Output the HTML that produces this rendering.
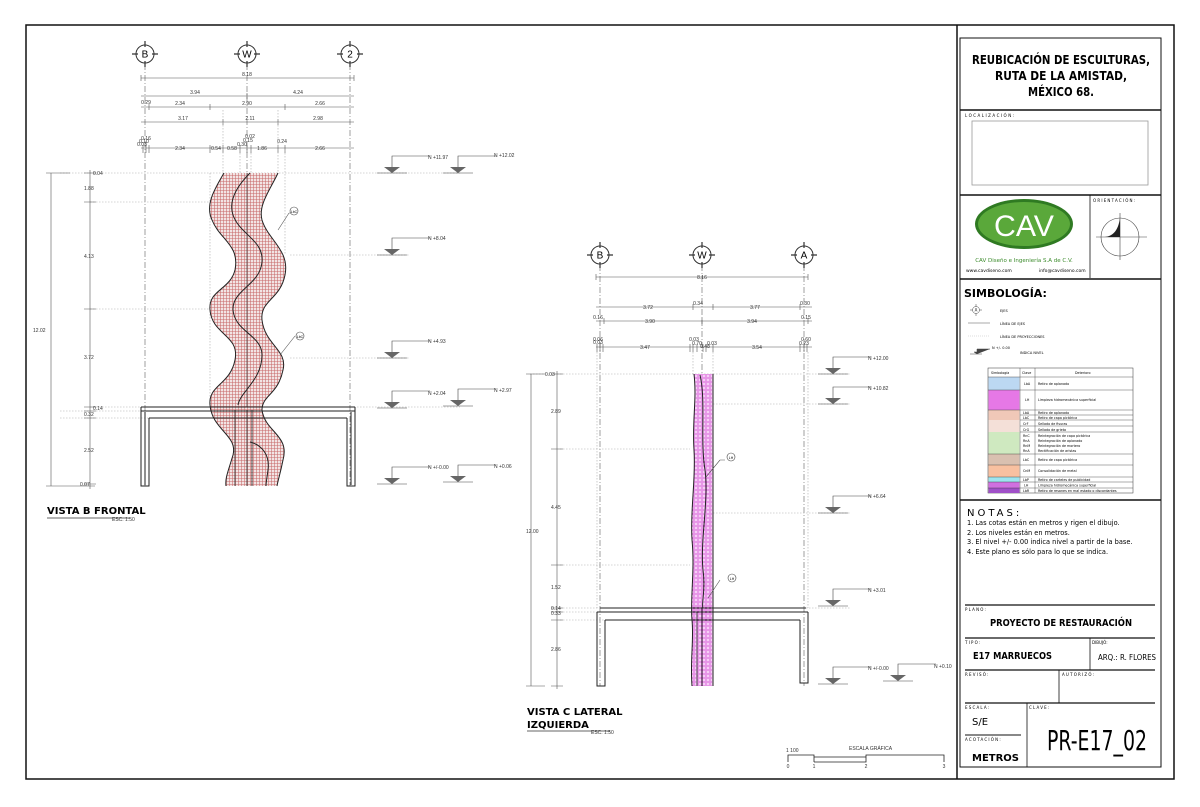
<!DOCTYPE html>
<html><head><meta charset="utf-8"><style>
html,body{margin:0;padding:0;background:#fff;}
svg{display:block;font-family:"Liberation Sans",sans-serif;}
.t{font-size:5px;fill:#333;}
.d{stroke:#555;stroke-width:0.6;fill:none;}
.p{stroke:#aaa;stroke-width:0.6;stroke-dasharray:1.5 1.5;fill:none;}
.ax{stroke:#777;stroke-width:0.7;stroke-dasharray:6 2 1 2;fill:none;}
.k{stroke:#222;stroke-width:1;fill:none;}
.tb{font-family:"DejaVu Sans",sans-serif;}
</style></head><body>
<svg width="1200" height="807" viewBox="0 0 1200 807" xmlns="http://www.w3.org/2000/svg">
<defs>
<pattern id="rh" width="3" height="3" patternUnits="userSpaceOnUse"><rect width="3" height="3" fill="#f2e4e4"/><path d="M0 1.5H3M1.5 0V3" stroke="#c86868" stroke-width="0.55"/></pattern>
<pattern id="mg" width="4" height="4" patternUnits="userSpaceOnUse"><rect width="4" height="4" fill="#f7d2f7"/><circle cx="2" cy="2" r="1.2" fill="none" stroke="#d040d0" stroke-width="0.6"/></pattern>
<g id="lv"><path d="M-15 0H15M0 0V-17H38" stroke="#444" stroke-width="0.6" fill="none"/><path d="M-8 -6H8L0 0Z" fill="#666"/></g>
<g id="ac"><circle r="9" fill="#fff" stroke="#333" stroke-width="1"/><path d="M-13 0H-7M7 0H13M0 -13V-7M0 7V13" stroke="#333" stroke-width="1.2"/></g>
</defs>
<rect width="1200" height="807" fill="#fff"/>
<rect x="26" y="25" width="1148" height="754" fill="none" stroke="#111" stroke-width="1.5"/>
<line x1="957" y1="25" x2="957" y2="779" stroke="#111" stroke-width="1.5"/>
<rect x="960" y="38" width="201" height="729" fill="none" stroke="#111" stroke-width="1"/>

<!-- LEFT VIEW -->
<g>
<line class="ax" x1="145" y1="64" x2="145" y2="486"/>
<line class="ax" x1="247" y1="64" x2="247" y2="486"/>
<line class="ax" x1="350" y1="64" x2="350" y2="486"/>
<use href="#ac" x="145" y="54"/><use href="#ac" x="247" y="54"/><use href="#ac" x="350" y="54"/>
<text x="145" y="57.5" font-size="10" text-anchor="middle">B</text>
<text x="247" y="57.5" font-size="10" text-anchor="middle">W</text>
<text x="350" y="57.5" font-size="10" text-anchor="middle">2</text>
<path class="d" d="M141 78H354M141 75V81M354 75V81M141 96H354M247 93V99M141 107H354M149 104V110M210 104V110M285 104V110M141 122H354M223 119V125M278 119V125M141 148H354M143 145V153M146 145V153M149 145V153M210 145V153M223 145V153M240 145V153M247 145V153M251 145V153M278 145V153M285 145V153"/>
<g class="t" text-anchor="middle">
<text x="247" y="76">8.18</text><text x="195" y="94">3.94</text><text x="298" y="94">4.24</text>
<text x="146" y="104">0.29</text><text x="180" y="105">2.34</text><text x="247" y="105">2.90</text><text x="320" y="105">2.66</text>
<text x="183" y="120">3.17</text><text x="250" y="120">2.11</text><text x="318" y="120">2.98</text>
<text x="146" y="140">0.16</text><text x="144" y="143">0.10</text><text x="142" y="146">0.03</text>
<text x="180" y="150">2.34</text><text x="216" y="150">0.54</text><text x="232" y="150">0.58</text><text x="242" y="146">0.30</text><text x="250" y="138">0.02</text><text x="248" y="142">0.15</text><text x="262" y="150">1.86</text><text x="282" y="143">0.24</text><text x="320" y="150">2.66</text>
</g>
<path class="p" d="M60 173H460M90 202H220M90 309H220M90 407H460M60 411H150M60 418H150M290 255H410M290 358H410M210 173V405M223 110V173M240 150V173M251 150V173M278 110V173M285 150V255"/>
<path class="d" d="M51 173V486M46 173H70M46 486H95M90 170V489M84 173H96M84 202H96M84 309H96M84 407H96M84 411H96M84 418H96M84 484H96"/>
<g class="t">
<text x="93" y="175">0.04</text><text x="84" y="190">1.88</text><text x="84" y="258">4.13</text><text x="33" y="332">12.02</text><text x="84" y="359">3.72</text><text x="93" y="410">0.14</text><text x="84" y="416">0.32</text><text x="84" y="452">2.52</text><text x="80" y="486">0.07</text>
</g>
<path d="M224 173 C214 190,205 205,212 220 C220 240,240 245,235 270 C230 290,208 290,210 310 C212 335,240 335,235 360 C230 385,208 385,210 405 C212 430,238 435,233 455 C228 472,225 478,226 486 L247 486 L247 173 Z" fill="url(#rh)"/>
<path d="M247 173 L278 173 C270 190,258 205,262 220 C268 240,290 250,285 275 C280 300,260 300,262 320 C265 345,288 350,283 370 C278 395,262 395,262 410 C265 432,290 435,283 460 C280 475,278 480,277 486 L247 486 Z" fill="url(#rh)"/>
<path class="k" d="M224 173 C214 190,205 205,212 220 C220 240,240 245,235 270 C230 290,208 290,210 310 C212 335,240 335,235 360 C230 385,208 385,210 405 C212 430,238 435,233 455 C228 472,225 478,226 486"/>
<path class="k" d="M250 173 C238 185,228 200,233 215 C240 235,264 240,262 262 C260 285,232 290,233 310 C235 332,262 335,262 355 C262 380,240 392,238 405"/>
<path class="k" d="M278 173 C270 190,258 205,262 220 C268 240,290 250,285 275 C280 300,260 300,262 320 C265 345,288 350,283 370 C278 395,262 395,262 410 C265 432,290 435,283 460 C280 475,278 480,277 486 M250 442 C262 445,270 455,268 470 C267 478,266 482,266 486"/>
<path d="M235 410 V486 M247 410 V486 M252 410 V486" stroke="#222" stroke-width="0.8"/>
<line x1="247" y1="173" x2="247" y2="407" stroke="#333" stroke-width="0.7"/>
<path class="k" d="M141 407H355M141 411H355M149 418H347M141 407V486H149V418M355 407V486H347V418M145 412V485M351 412V485"/>
<path d="M289 213L278 230M289 213H292" class="d"/><circle cx="294" cy="211" r="4" fill="#fff" stroke="#444" stroke-width="0.6"/><text x="294" y="213" font-size="3.5" text-anchor="middle">LbC</text>
<path d="M295 336L280 355" class="d"/><circle cx="300" cy="336" r="4" fill="#fff" stroke="#444" stroke-width="0.6"/><text x="300" y="338" font-size="3.5" text-anchor="middle">LbC</text>
<use href="#lv" x="392" y="173"/><use href="#lv" x="392" y="255"/><use href="#lv" x="392" y="358"/><use href="#lv" x="392" y="408"/><use href="#lv" x="392" y="484"/>
<use href="#lv" x="458" y="173"/><use href="#lv" x="458" y="406"/><use href="#lv" x="458" y="482"/>
<g class="t"><text x="428" y="159">N +11.97</text><text x="428" y="240">N +8.04</text><text x="428" y="343">N +4.93</text><text x="428" y="395">N +2.04</text><text x="428" y="469">N +/-0.00</text>
<text x="494" y="157">N +12.02</text><text x="494" y="392">N +2.97</text><text x="494" y="468">N +0.06</text></g>
<text x="47" y="514" font-size="10" font-weight="bold" class="tb">VISTA B FRONTAL</text>
<line x1="47" y1="518" x2="130" y2="518" stroke="#333" stroke-width="0.8"/>
<text x="112" y="521" class="t" font-size="4">ESC. 1:50</text>
</g>

<!-- RIGHT VIEW -->
<g>
<line class="ax" x1="600" y1="265" x2="600" y2="686"/>
<line class="ax" x1="702" y1="265" x2="702" y2="686"/>
<line class="ax" x1="804" y1="265" x2="804" y2="686"/>
<use href="#ac" x="600" y="255"/><use href="#ac" x="702" y="255"/><use href="#ac" x="804" y="255"/>
<text x="600" y="258.5" font-size="10" text-anchor="middle">B</text>
<text x="702" y="258.5" font-size="10" text-anchor="middle">W</text>
<text x="804" y="258.5" font-size="10" text-anchor="middle">A</text>
<path class="d" d="M596 277H808M596 274V280M808 274V280M596 307H812M693 304V310M713 304V310M800 304V310M596 321H812M604 318V324M702 318V324M808 318V324M596 347H812M597 344V352M600 344V352M603 344V352M690 344V352M693 344V352M697 344V352M703 344V352M706 344V352M713 344V352M800 344V352M804 344V352M807 344V352"/>
<g class="t" text-anchor="middle">
<text x="702" y="279">8.16</text><text x="648" y="309">3.72</text><text x="698" y="305">0.34</text><text x="755" y="309">3.77</text><text x="805" y="305">0.30</text>
<text x="598" y="319">0.16</text><text x="650" y="323">3.90</text><text x="752" y="323">3.94</text><text x="806" y="319">0.15</text>
<text x="598" y="341">0.06</text><text x="598" y="344">0.03</text><text x="645" y="349">3.47</text><text x="694" y="341">0.03</text><text x="697" y="345">0.70</text><text x="705" y="348">0.48</text><text x="712" y="345">0.03</text><text x="757" y="349">3.54</text><text x="806" y="341">0.60</text><text x="804" y="345">0.23</text>
</g>
<path class="p" d="M530 374H850M560 449H690M560 565H690M560 608H850M560 612H605M560 620H605M713 404H850M713 513H850M693 352V374M713 352V374M597 352V608M808 352V608"/>
<path class="d" d="M531 374V686M526 374H545M526 686H545M557 371V689M551 374H563M551 449H563M551 565H563M551 608H563M551 612H563M551 620H563M551 686H563"/>
<g class="t"><text x="545" y="376">0.03</text><text x="551" y="413">2.89</text><text x="551" y="509">4.45</text><text x="526" y="533">12.00</text><text x="551" y="589">1.52</text><text x="551" y="610">0.14</text><text x="551" y="615">0.33</text><text x="551" y="651">2.86</text></g>
<path d="M694 374H713V686H692 C690 660,694 640,692 620 C690 600,695 570,692 540 C690 510,696 480,694 450 C692 420,697 400,694 374Z" fill="url(#mg)"/>
<path class="k" d="M694 374 C697 400,692 420,694 450 C696 480,690 510,692 540 C695 570,690 600,692 620 C694 640,690 660,692 686 M713 374V686 M700 375 C706 400,700 440,705 470 C709 500,700 540,703 570 C706 590,701 605,703 608"/>
<path d="M697 612V686M702 612V686" stroke="#222" stroke-width="0.8"/>
<path class="k" d="M600 608H806M597 612H808M605 620H800M597 612V686H605V620M808 612V683H800V620M702 608V686"/>
<path d="M720 460L706 477M720 460H725" class="d"/><circle cx="731" cy="457" r="4" fill="#fff" stroke="#444" stroke-width="0.6"/><text x="731" y="459" font-size="3.5" text-anchor="middle">LH</text>
<path d="M720 580L708 598" class="d"/><circle cx="732" cy="578" r="4" fill="#fff" stroke="#444" stroke-width="0.6"/><text x="732" y="580" font-size="3.5" text-anchor="middle">LH</text>
<use href="#lv" x="833" y="374"/><use href="#lv" x="833" y="404"/><use href="#lv" x="833" y="513"/><use href="#lv" x="833" y="606"/><use href="#lv" x="833" y="684"/><use href="#lv" x="898" y="681"/>
<g class="t"><text x="868" y="360">N +12.00</text><text x="868" y="390">N +10.82</text><text x="868" y="498">N +6.64</text><text x="868" y="592">N +3.01</text><text x="868" y="670">N +/-0.00</text><text x="934" y="668">N +0.10</text></g>
<text x="527" y="715" font-size="10" font-weight="bold" class="tb">VISTA C LATERAL</text>
<text x="527" y="728" font-size="10" font-weight="bold" class="tb">IZQUIERDA</text>
<line x1="527" y1="731" x2="610" y2="731" stroke="#333" stroke-width="0.8"/>
<text x="591" y="734" class="t" font-size="4">ESC. 1:50</text>
</g>

<g>
<text x="786" y="752" class="t" font-size="4">1 100</text>
<text x="849" y="750" class="t" font-size="4">ESCALA GRÁFICA</text>
<path d="M788 762V755H814V762M814 757H866V762H814M866 762V755H944V762" stroke="#222" stroke-width="0.8" fill="none"/>
<g class="t" font-size="4" text-anchor="middle"><text x="788" y="768">0</text><text x="814" y="768">1</text><text x="866" y="768">2</text><text x="944" y="768">3</text></g>
</g>

<!-- TITLE BLOCK -->
<g class="tb">
<text x="1061" y="64" font-size="12" font-weight="bold" text-anchor="middle" textLength="178" lengthAdjust="spacingAndGlyphs">REUBICACIÓN DE ESCULTURAS,</text>
<text x="1061" y="80" font-size="12" font-weight="bold" text-anchor="middle" textLength="132" lengthAdjust="spacingAndGlyphs">RUTA DE LA AMISTAD,</text>
<text x="1061" y="96" font-size="12" font-weight="bold" text-anchor="middle" textLength="66" lengthAdjust="spacingAndGlyphs">MÉXICO 68.</text>
<line x1="960" y1="110" x2="1161" y2="110" stroke="#111" stroke-width="1.5"/>
<text x="965" y="117" font-size="4" letter-spacing="1.5">LOCALIZACIÓN:</text>
<rect x="972" y="121" width="176" height="64" fill="none" stroke="#999" stroke-width="0.8"/>
<line x1="960" y1="195" x2="1161" y2="195" stroke="#111" stroke-width="1.5"/>
<line x1="1090" y1="195" x2="1090" y2="278" stroke="#111" stroke-width="0.8"/>
<text x="1093" y="202" font-size="4" letter-spacing="1.2">ORIENTACIÓN:</text>
<ellipse cx="1024" cy="224" rx="49" ry="25" fill="#2f7a22"/>
<ellipse cx="1024" cy="224" rx="46" ry="22" fill="#5aa83a"/>
<text x="1024" y="236" font-size="30" fill="#fff" text-anchor="middle" font-family="Liberation Sans,sans-serif" textLength="60" lengthAdjust="spacingAndGlyphs">CAV</text>
<text x="1024" y="262" font-size="5.5" fill="#3a8a2a" text-anchor="middle">CAV Diseño e Ingeniería S.A de C.V.</text>
<text x="966" y="272" font-size="4.5">www.cavdiseno.com</text>
<text x="1039" y="272" font-size="4.5">info@cavdiseno.com</text>
<circle cx="1120" cy="237" r="19" fill="none" stroke="#444" stroke-width="0.6"/>
<path d="M1096 237H1147M1120 213V260" stroke="#444" stroke-width="0.6"/>
<path d="M1105 237 C1112 236,1118 232,1120 218 L1120 237Z" fill="#222"/>
<line x1="960" y1="279" x2="1161" y2="279" stroke="#111" stroke-width="1.5"/>
<text x="964" y="297" font-size="11" font-weight="bold">SIMBOLOGÍA:</text>
<g transform="translate(976,310)"><circle r="3.5" fill="none" stroke="#444" stroke-width="0.5"/><path d="M-6 0H-3.5M3.5 0H6M0 -6V-3.5M0 3.5V6" stroke="#444" stroke-width="0.5"/><text y="1.5" font-size="4" text-anchor="middle">A</text></g>
<text x="1000" y="312" font-size="3.5">EJES</text>
<line x1="968" y1="323" x2="990" y2="323" stroke="#555" stroke-width="0.5"/><text x="1000" y="325" font-size="3.5">LÍNEA DE EJES</text>
<line x1="968" y1="336" x2="990" y2="336" stroke="#bbb" stroke-width="0.5" stroke-dasharray="1 1"/><text x="1000" y="338" font-size="3.5">LÍNEA DE PROYECCIONES</text>
<path d="M970 354H982M977 354V349H990M974 352H980L977 354Z" stroke="#444" stroke-width="0.5" fill="#444"/><text x="992" y="349" font-size="3.5">N +/- 0.00</text><text x="1020" y="354" font-size="3.5">INDICA NIVEL</text>
<rect x="988" y="368" width="145" height="125" fill="#fff" stroke="#333" stroke-width="0.5"/>
<rect x="988.5" y="377" width="31" height="13" fill="#bcd8f2"/>
<rect x="988.5" y="390" width="31" height="20" fill="#e678e6"/>
<rect x="988.5" y="410" width="31" height="10" fill="#f0c8b8"/>
<rect x="988.5" y="420" width="31" height="12" fill="#f4e0d8"/>
<rect x="988.5" y="432" width="31" height="22" fill="#cfe9c0"/>
<rect x="988.5" y="454" width="31" height="11" fill="#d9c0b0"/>
<rect x="988.5" y="465" width="31" height="12" fill="#f8c0a0"/>
<rect x="988.5" y="477" width="31" height="5" fill="#9ee4ee"/>
<rect x="988.5" y="482" width="31" height="6" fill="#d070e0"/>
<rect x="988.5" y="488" width="31" height="5" fill="#a050c8"/>
<path d="M1020 368V493M1035 368V493M988 377H1133M988 390H1133M988 410H1133M1020 415H1133M1020 420H1133M1020 426H1133M1020 432H1133M988 454H1133M988 465H1133M988 477H1133M988 482H1133M988 488H1133" stroke="#333" stroke-width="0.4"/>
<g font-size="3.3"><text x="991" y="374">Simbología</text><text x="1022" y="374">Clave</text><text x="1075" y="374">Deterioro</text>
<text x="1024" y="385">LbA</text><text x="1038" y="385">Retiro de aplanado</text>
<text x="1025" y="401">LH</text><text x="1038" y="401">Limpieza hidromecánica superficial</text>
<text x="1023" y="414">LbA</text><text x="1038" y="414">Retiro de aplanado</text>
<text x="1023" y="419">LbC</text><text x="1038" y="419">Retiro de capa pictórica</text>
<text x="1023" y="425">CrF</text><text x="1038" y="425">Sellado de fisuras</text>
<text x="1023" y="431">CrG</text><text x="1038" y="431">Sellado de grieta</text>
<text x="1023" y="437">RnC</text><text x="1038" y="437">Reintegración de capa pictórica</text>
<text x="1023" y="442">RnA</text><text x="1038" y="442">Reintegración de aplanado</text>
<text x="1023" y="447">RnM</text><text x="1038" y="447">Reintegración de mortero</text>
<text x="1023" y="452">RnA</text><text x="1038" y="452">Rectificación de aristas</text>
<text x="1023" y="461">LbC</text><text x="1038" y="461">Retiro de capa pictórica</text>
<text x="1023" y="472">CnM</text><text x="1038" y="472">Consolidación de metal</text>
<text x="1023" y="481">LbP</text><text x="1038" y="481">Retiro de carteles de publicidad</text>
<text x="1024" y="486.5">LH</text><text x="1038" y="486.5">Limpieza hidromecánica superficial</text>
<text x="1023" y="492">LbR</text><text x="1038" y="492">Retiro de resanes en mal estado o discordantes</text></g>
<line x1="960" y1="500" x2="1161" y2="500" stroke="#111" stroke-width="1.5"/>
<text x="967" y="516" font-size="10" letter-spacing="3">NOTAS:</text>
<g font-size="6.6"><text x="967" y="525">1. Las cotas están en metros y  rigen el dibujo.</text>
<text x="967" y="535">2. Los niveles están en metros.</text>
<text x="967" y="544">3. El nivel +/- 0.00 indica nivel a partir de la base.</text>
<text x="967" y="554">4. Este plano es sólo para lo que se indica.</text></g>
<line x1="965" y1="605" x2="1155" y2="605" stroke="#111" stroke-width="1.2"/>
<text x="965" y="611" font-size="4" letter-spacing="1.2">PLANO:</text>
<text x="1061" y="626" font-size="10" font-weight="bold" text-anchor="middle" textLength="142" lengthAdjust="spacingAndGlyphs">PROYECTO DE RESTAURACIÓN</text>
<line x1="965" y1="638" x2="1155" y2="638" stroke="#111" stroke-width="1.2"/>
<line x1="1090" y1="638" x2="1090" y2="670" stroke="#111" stroke-width="0.8"/>
<text x="965" y="644" font-size="4" letter-spacing="1.2">TIPO:</text>
<text x="1092" y="644" font-size="4">DIBUJÓ:</text>
<text x="973" y="659" font-size="10" font-weight="bold" textLength="79" lengthAdjust="spacingAndGlyphs">E17 MARRUECOS</text>
<text x="1098" y="660" font-size="8" textLength="58" lengthAdjust="spacingAndGlyphs">ARQ.: R. FLORES</text>
<line x1="965" y1="670" x2="1155" y2="670" stroke="#111" stroke-width="1.2"/>
<line x1="1059" y1="670" x2="1059" y2="703" stroke="#111" stroke-width="0.8"/>
<text x="965" y="676" font-size="4" letter-spacing="1.2">REVISÓ:</text>
<text x="1062" y="676" font-size="4" letter-spacing="1.2">AUTORIZÓ:</text>
<line x1="965" y1="703" x2="1155" y2="703" stroke="#111" stroke-width="1.2"/>
<line x1="1027" y1="703" x2="1027" y2="767" stroke="#111" stroke-width="0.8"/>
<text x="965" y="709" font-size="4" letter-spacing="1.2">ESCALA:</text>
<text x="1029" y="709" font-size="4" letter-spacing="1.2">CLAVE:</text>
<text x="972" y="725" font-size="10">S/E</text>
<line x1="965" y1="735" x2="1021" y2="735" stroke="#111" stroke-width="1"/>
<text x="965" y="741" font-size="4" letter-spacing="1.2">ACOTACIÓN:</text>
<text x="972" y="761" font-size="10" font-weight="bold">METROS</text>
<text x="1047" y="750" font-size="28" textLength="100" lengthAdjust="spacingAndGlyphs">PR-E17_02</text>
</g>
</svg>
</body></html>
